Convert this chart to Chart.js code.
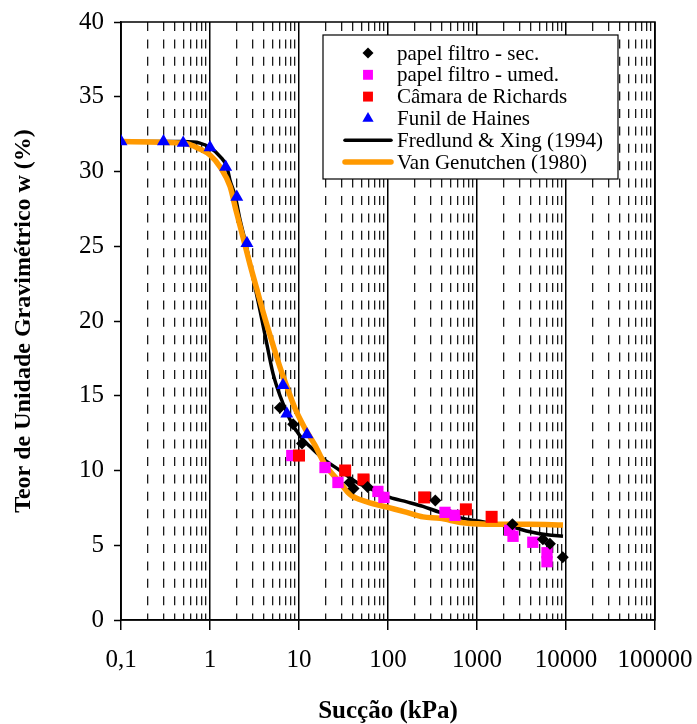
<!DOCTYPE html>
<html>
<head>
<meta charset="utf-8">
<script src="https://cdn.jsdelivr.net/npm/chart.js@4.4.1/dist/chart.umd.min.js"></script>
<style>
  html, body { margin: 0; padding: 0; background: #fff; }
  #wrap { width: 697px; height: 724px; }
</style>
</head>
<body>
<div id="wrap"><canvas id="grafico"></canvas></div>
<script>
// pontos experimentais (succao kPa, teor w %)
const sucSec = [6.1, 8.6, 10.8, 37, 41, 59, 340, 2500, 5500, 6600, 9200];
const wSec = [14.2, 13.1, 11.8, 9.2, 8.8, 8.9, 8.0, 6.4, 5.4, 5.1, 4.2];

const sucUmed = [8.3, 19.6, 27.4, 77, 90, 437, 565, 2330, 2540, 4240, 6120, 6120];
const wUmed = [11.0, 10.2, 9.2, 8.6, 8.2, 7.2, 7.0, 6.0, 5.6, 5.2, 4.5, 3.9];

const sucRichards = [10, 33, 53, 255, 750, 1460];
const wRichards = [11.0, 10.0, 9.4, 8.2, 7.4, 6.9];

const sucHaines = [0.1, 0.3, 0.5, 1.0, 1.5, 2.0, 2.6, 6.6, 7.3, 12.3];
const wHaines = [32.0, 32.0, 31.9, 31.6, 30.3, 28.3, 25.2, 15.7, 13.8, 12.4];

// curvas ajustadas
const sucFredlund = [0.1, 0.5, 0.77, 1.0, 1.3, 1.55, 1.68, 1.91, 2.17, 2.54, 3.04, 3.65, 4.37, 5.1, 6.12, 7.93, 10.3, 13.3, 18.6, 28.9, 44.9, 67.8, 105, 163, 247, 384, 697, 1080, 1680, 2540, 3940, 6120, 9250];
const wFredlund = [32.0, 32.0, 31.9, 31.6, 31.0, 30.3, 29.4, 28.4, 26.8, 25.1, 22.9, 20.7, 18.4, 16.5, 15.0, 13.4, 12.3, 11.6, 10.8, 10.0, 9.2, 8.7, 8.2, 7.9, 7.6, 7.2, 6.8, 6.6, 6.4, 6.2, 5.9, 5.7, 5.6];

const sucVanG = [0.1, 0.5, 0.77, 1.0, 1.3, 1.68, 1.96, 2.35, 2.81, 3.37, 4.04, 4.98, 6.12, 7.52, 9.25, 11.7, 15.1, 19.6, 28.9, 37.4, 58, 105, 163, 247, 384, 697, 1680, 3940, 9250];
const wVanG = [32.0, 31.9, 31.5, 31.1, 30.3, 29.0, 27.4, 25.6, 23.8, 22.1, 20.4, 18.6, 16.9, 15.4, 14.0, 12.8, 11.7, 10.4, 9.2, 8.4, 7.9, 7.5, 7.2, 6.9, 6.8, 6.5, 6.4, 6.4, 6.35];

const decadasX = [0.1, 1, 10, 100, 1000, 10000, 100000];
const ticksY = [0, 5, 10, 15, 20, 25, 30, 35, 40];

function pares(xs, ys) {
  return xs.map((x, i) => ({ x: x, y: ys[i] }));
}

function rotuloX(v) {
  if (v === 0.1) return '0,1';
  return String(Math.round(v));
}

const fonte = 'Liberation Serif';

// moldura do grafico (topo e direita)
const moldura = {
  id: 'moldura',
  beforeDatasetsDraw(chart) {
    const { ctx, chartArea } = chart;
    ctx.save();
    ctx.strokeStyle = '#000';
    ctx.lineWidth = 1.5;
    ctx.strokeRect(chartArea.left, chartArea.top, chartArea.right - chartArea.left, chartArea.bottom - chartArea.top);
    ctx.restore();
  }
};

// legenda em caixa dentro da area do grafico
const legenda = {
  id: 'legenda',
  afterDraw(chart) {
    const ctx = chart.ctx;
    const bx = 323, by = 35, bw = 295, bh = 144;
    ctx.save();
    ctx.fillStyle = '#fff';
    ctx.fillRect(bx, by, bw, bh);
    ctx.strokeStyle = '#000';
    ctx.lineWidth = 1.2;
    ctx.strokeRect(bx, by, bw, bh);
    ctx.font = '21px "' + fonte + '"';
    ctx.textBaseline = 'middle';
    chart.data.datasets.forEach((ds, i) => {
      const y = 53 + i * 21.8;
      if (ds.showLine) {
        ctx.strokeStyle = ds.borderColor;
        ctx.lineWidth = ds.borderWidth;
        ctx.lineCap = 'round';
        ctx.beginPath();
        ctx.moveTo(345, y);
        ctx.lineTo(391, y);
        ctx.stroke();
      } else {
        ctx.fillStyle = ds.backgroundColor;
        Chart.helpers.drawPoint(ctx, {
          pointStyle: ds.pointStyle,
          radius: ds.legendRadius,
          rotation: 0,
          borderWidth: 0
        }, 368, y);
      }
      ctx.fillStyle = '#000';
      ctx.fillText(ds.label, 397, y + 1);
    });
    ctx.restore();
  }
};

new Chart(document.getElementById('grafico'), {
  type: 'scatter',
  data: {
    datasets: [
      {
        label: 'papel filtro - sec.',
        data: pares(sucSec, wSec),
        pointStyle: 'rectRot', pointRadius: 6, legendRadius: 5.5,
        backgroundColor: '#000', borderColor: '#000', borderWidth: 0,
        order: 0
      },
      {
        label: 'papel filtro - umed.',
        data: pares(sucUmed, wUmed),
        pointStyle: 'rect', pointRadius: 8, legendRadius: 7,
        backgroundColor: '#ff00ff', borderColor: '#ff00ff', borderWidth: 0,
        order: 2
      },
      {
        label: 'Câmara de Richards',
        data: pares(sucRichards, wRichards),
        pointStyle: 'rect', pointRadius: 8.5, legendRadius: 7,
        backgroundColor: '#ff0000', borderColor: '#ff0000', borderWidth: 0,
        order: 1
      },
      {
        label: 'Funil de Haines',
        data: pares(sucHaines, wHaines),
        pointStyle: 'triangle', pointRadius: 7.5, legendRadius: 6.5,
        backgroundColor: '#0000ff', borderColor: '#0000ff', borderWidth: 0,
        order: 3
      },
      {
        label: 'Fredlund & Xing (1994)',
        data: pares(sucFredlund, wFredlund),
        showLine: true, pointRadius: 0,
        borderColor: '#000', borderWidth: 3.5,
        cubicInterpolationMode: 'monotone',
        order: 10
      },
      {
        label: 'Van Genutchen (1980)',
        data: pares(sucVanG, wVanG),
        showLine: true, pointRadius: 0,
        borderColor: '#ff9900', borderWidth: 5.5,
        cubicInterpolationMode: 'monotone',
        order: 9
      }
    ]
  },
  options: {
    responsive: true,
    maintainAspectRatio: false,
    animation: false,
    layout: { padding: { top: 22, right: 42, left: 0, bottom: 0 } },
    plugins: {
      legend: { display: false },
      tooltip: { enabled: false }
    },
    scales: {
      x: {
        type: 'logarithmic',
        min: 0.1,
        max: 100000,
        afterBuildTicks: scale => {
          const t = [];
          decadasX.forEach((d, i) => {
            t.push({ value: d, major: true });
            if (i < decadasX.length - 1) {
              for (let k = 2; k <= 9; k++) t.push({ value: k * d, major: false });
            }
          });
          scale.ticks = t;
        },
        afterFit: scale => {
          scale.height = 104;
          scale.paddingLeft = 0;
          scale.paddingRight = 0;
        },
        ticks: {
          autoSkip: false,
          maxRotation: 0,
          padding: 15,
          color: '#000',
          font: { family: fonte, size: 25 },
          callback: (v, i, ticks) => ticks[i].major ? rotuloX(v) : ''
        },
        grid: {
          color: ctx => (ctx.tick && ctx.tick.major) ? '#000' : '#1a1a1a',
          lineWidth: ctx => (ctx.tick && ctx.tick.major) ? 1.5 : 1.3,
          tickColor: ctx => (ctx.tick && ctx.tick.major) ? '#000' : 'rgba(0,0,0,0)',
          tickLength: 10,
          tickWidth: 1.5
        },
        border: {
          color: '#000',
          width: 1.5,
          dash: ctx => (ctx.tick && !ctx.tick.major) ? [9, 8.4] : []
        },
        title: {
          display: true,
          text: 'Sucção (kPa)',
          color: '#000',
          font: { family: fonte, size: 25, weight: 'bold', lineHeight: 1 },
          padding: { top: 0, bottom: 0 }
        }
      },
      y: {
        min: 0,
        max: 40,
        afterBuildTicks: scale => { scale.ticks = ticksY.map(v => ({ value: v })); },
        afterFit: scale => {
          scale.width = 121;
          scale.paddingTop = 0;
          scale.paddingBottom = 0;
        },
        ticks: {
          padding: 10,
          color: '#000',
          font: { family: fonte, size: 25 }
        },
        grid: {
          drawOnChartArea: false,
          color: '#000',
          tickLength: 7,
          tickWidth: 1.5
        },
        border: { color: '#000', width: 1.5 },
        title: {
          display: true,
          text: 'Teor de Unidade Gravimétrico w (%)',
          color: '#000',
          font: { family: fonte, size: 24, weight: 'bold', lineHeight: 1 },
          padding: { top: 12, bottom: 0 }
        }
      }
    }
  },
  plugins: [moldura, legenda]
});
</script>
</body>
</html>
